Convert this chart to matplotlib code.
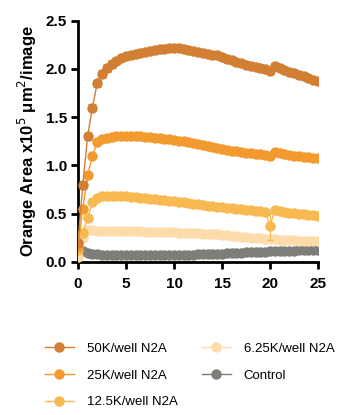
import matplotlib.pyplot as plt

plt.rcParams['font.family'] = ['Liberation Sans', 'DejaVu Sans']

# time in hours
horas = [0, 0.5, 1, 1.5, 2, 2.5, 3, 3.5, 4, 4.5, 5, 5.5, 6, 6.5, 7, 7.5, 8, 8.5, 9, 9.5,
         10, 10.5, 11, 11.5, 12, 12.5, 13, 13.5, 14, 14.5, 15, 15.5, 16, 16.5, 17, 17.5,
         18, 18.5, 19, 19.5, 20, 20.5, 21, 21.5, 22, 22.5, 23, 23.5, 24, 24.5, 25]

n2a_50k = [0.20, 0.80, 1.30, 1.60, 1.85, 1.95, 2.01, 2.05, 2.08, 2.11, 2.13, 2.15, 2.16, 2.17,
           2.18, 2.19, 2.20, 2.21, 2.21, 2.22, 2.22, 2.22, 2.21, 2.20, 2.19, 2.18, 2.17, 2.16,
           2.15, 2.14, 2.12, 2.10, 2.09, 2.07, 2.06, 2.04, 2.03, 2.02, 2.01, 2.00, 1.98, 2.03,
           2.01, 1.99, 1.97, 1.96, 1.94, 1.93, 1.91, 1.89, 1.88]
n2a_25k = [0.15, 0.55, 0.90, 1.10, 1.24, 1.27, 1.28, 1.29, 1.30, 1.30, 1.30, 1.30, 1.30, 1.30,
           1.29, 1.29, 1.28, 1.28, 1.27, 1.27, 1.26, 1.25, 1.25, 1.24, 1.23, 1.22, 1.21, 1.20,
           1.19, 1.18, 1.17, 1.16, 1.15, 1.15, 1.14, 1.13, 1.13, 1.12, 1.12, 1.11, 1.10, 1.14,
           1.13, 1.12, 1.11, 1.10, 1.10, 1.09, 1.09, 1.08, 1.08]
n2a_12k = [0.12, 0.30, 0.45, 0.62, 0.66, 0.68, 0.68, 0.68, 0.68, 0.68, 0.68, 0.67, 0.67, 0.66,
           0.66, 0.65, 0.65, 0.64, 0.64, 0.63, 0.63, 0.62, 0.62, 0.61, 0.60, 0.60, 0.59, 0.58,
           0.58, 0.57, 0.57, 0.56, 0.56, 0.55, 0.55, 0.54, 0.54, 0.53, 0.53, 0.52, 0.37, 0.54,
           0.53, 0.52, 0.51, 0.51, 0.50, 0.50, 0.49, 0.49, 0.48]
n2a_6k = [0.05, 0.25, 0.33, 0.33, 0.32, 0.32, 0.32, 0.32, 0.32, 0.32, 0.32, 0.32, 0.32, 0.32,
          0.31, 0.31, 0.31, 0.31, 0.31, 0.31, 0.31, 0.30, 0.30, 0.30, 0.30, 0.30, 0.29, 0.29,
          0.29, 0.29, 0.28, 0.28, 0.27, 0.27, 0.26, 0.26, 0.25, 0.25, 0.25, 0.24, 0.24, 0.24,
          0.23, 0.23, 0.23, 0.23, 0.22, 0.22, 0.22, 0.22, 0.22]
controle = [0.14, 0.11, 0.09, 0.08, 0.08, 0.07, 0.07, 0.07, 0.07, 0.07, 0.07, 0.07, 0.07, 0.07,
            0.07, 0.07, 0.07, 0.07, 0.07, 0.07, 0.07, 0.07, 0.07, 0.07, 0.07, 0.08, 0.08, 0.08,
            0.08, 0.08, 0.08, 0.09, 0.09, 0.09, 0.09, 0.10, 0.10, 0.10, 0.10, 0.10, 0.11, 0.11,
            0.11, 0.11, 0.11, 0.11, 0.12, 0.12, 0.12, 0.12, 0.12]

# desvio (barras de erro)
erro_50k = [0.03, 0.04, 0.04, 0.04, 0.04, 0.04, 0.04, 0.04, 0.03, 0.03, 0.03, 0.03, 0.03, 0.03,
            0.03, 0.03, 0.03, 0.03, 0.03, 0.03, 0.03, 0.03, 0.03, 0.03, 0.03, 0.03, 0.03, 0.03,
            0.03, 0.03, 0.03, 0.03, 0.03, 0.03, 0.03, 0.03, 0.03, 0.03, 0.03, 0.03, 0.03, 0.03,
            0.03, 0.03, 0.03, 0.03, 0.03, 0.03, 0.03, 0.03, 0.03]
erro_12k_t20 = 0.14

legendas = ['50K/well N2A', '25K/well N2A', '12.5K/well N2A', '6.25K/well N2A', 'Control']
cores = ['#d27f33', '#f29a2e', '#f8b950', '#fcdcab', '#7e7e79']

fig = plt.figure(figsize=(3.61, 4.15), dpi=100)
ax = fig.add_axes([0.216, 0.369, 0.665, 0.581])

series = [n2a_50k, n2a_25k, n2a_12k, n2a_6k, controle]
handles = [None] * 5
for i in [4, 3, 2, 1, 0]:
    h, = ax.plot(horas, series[i], color=cores[i], marker='o', markersize=7.5,
                 markeredgewidth=0, linewidth=1.0, zorder=2 + (4 - i))
    handles[i] = h

ax.errorbar(horas, n2a_50k, yerr=erro_50k, fmt='none', ecolor=cores[0], elinewidth=0.8,
            capsize=3, capthick=0.8, zorder=7)
ax.errorbar([horas[40]], [n2a_12k[40]], yerr=[erro_12k_t20], fmt='none', ecolor=cores[2],
            elinewidth=0.8, capsize=2, zorder=5)

ax.set_xlim(0, 25)
ax.set_ylim(0, 2.5)
ax.set_xticks([0, 5, 10, 15, 20, 25])
ax.set_yticks([0, 0.5, 1.0, 1.5, 2.0, 2.5])
ax.set_yticklabels(['0.0', '0.5', '1.0', '1.5', '2.0', '2.5'])
for s in ['top', 'right']:
    ax.spines[s].set_visible(False)
for s in ['left', 'bottom']:
    ax.spines[s].set_linewidth(2)
ax.tick_params(width=2, length=5, labelsize=11, pad=3)
for lbl in ax.get_xticklabels() + ax.get_yticklabels():
    lbl.set_fontweight('bold')
ax.xaxis.set_tick_params(pad=6)

ax.set_ylabel('Orange Area x10$^5$ $\\mathregular{\\mu}$m$^2$/image', fontsize=12,
              fontweight='bold', labelpad=5)

fig.legend(handles=handles, labels=legendas, ncol=2, loc='upper left',
           bbox_to_anchor=(0.091, 0.203), frameon=False, fontsize=9.5,
           handlelength=2.2, columnspacing=1.8, labelspacing=1.1, handletextpad=1.0)

fig.savefig('out.png', dpi=100)
